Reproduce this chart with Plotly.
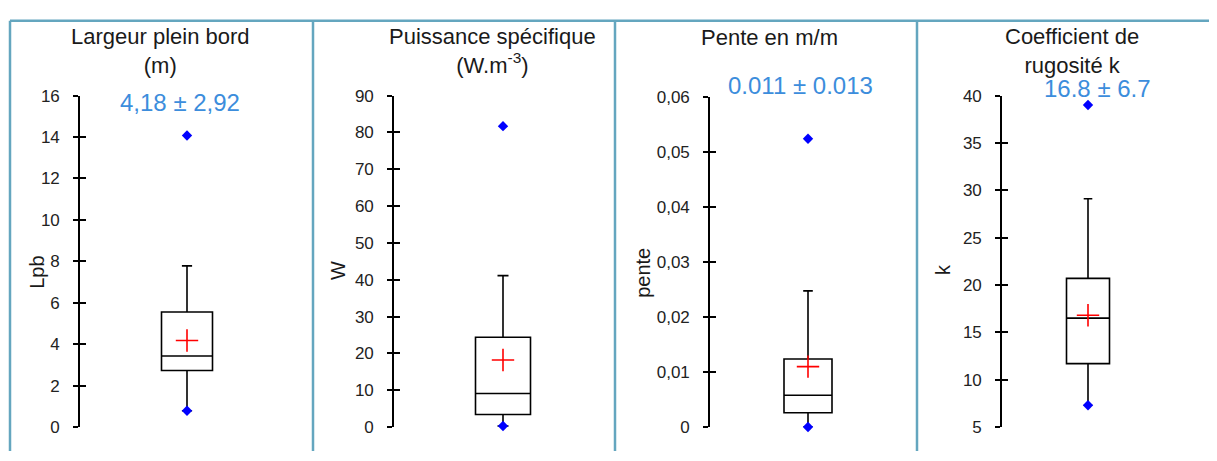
"""Box plots of four river-channel descriptors (width, stream power, slope, roughness)."""

import plotly.graph_objects as go

# page is 1217x461, the html body adds an 8 px margin around the figure
PAGE_W, PAGE_H = 1217, 461
PAD = 8
W, H = PAGE_W - PAD, PAGE_H - PAD

# --- data ------------------------------------------------------------------
titles = ["Largeur plein bord<br>(m)", "Puissance spécifique<br>(W.m<sup>-3</sup>)",
          "Pente en m/m", "Coefficient de<br>rugosité k"]
ylabels = ["Lpb", "W", "pente", "k"]
stat_labels = ["4,18 ± 2,92", "", "0.011 ± 0.013", "16.8 ± 6.7"]

q1 = [2.73, 3.4, 0.0026, 11.7]
median = [3.43, 9.1, 0.0058, 16.5]
q3 = [5.55, 24.4, 0.0124, 20.7]
whisker_low = [0.79, 0.3, 0.0, 7.3]
whisker_high = [7.78, 41.1, 0.0248, 29.1]
means = [4.18, 18.2, 0.011, 16.8]
minima = [0.79, 0.3, 0.0, 7.3]
maxima = [14.07, 81.7, 0.0525, 39.0]

y_ranges = [[0, 16], [0, 90], [0, 0.06], [5, 40]]
y_dticks = [2, 10, 0.01, 5]

# --- geometry (screen pixels in the 1217x461 page) --------------------------
axis_px = [80, 394, 710, 1002]
center_px = [187, 503, 808, 1088]
box_px = [51, 55, 48, 43]
top_px = [90, 90, 92, 90]
bottom_px = 436
title_xy = [(160, 43), (492, 43), (770, 29), (1072, 43)]
stat_xy = [(180, 97), (0, 0), (800, 80), (1097, 83)]
ylabel_xy = [(37, 275), (338, 273), (643, 275), (943, 272)]
dividers = [10, 313, 615, 917]
frame_top = 12

FONT = "Arial, 'Liberation Sans', sans-serif"
FRAME = "#64A6BF"


def px(x):
    return (x - PAD) / W


def py(y):
    return 1 - (y - PAD) / H


fig = go.Figure()
layout = {}
annotations = []

for i in range(4):
    n = "" if i == 0 else str(i + 1)
    xa, ya, yo = f"x{n}", f"y{n}", f"y{i + 5}"
    half_px = center_px[i] - axis_px[i]
    box_width = box_px[i] / half_px

    fig.add_trace(go.Box(
        x=[0], q1=[q1[i]], median=[median[i]], q3=[q3[i]],
        lowerfence=[whisker_low[i]], upperfence=[whisker_high[i]],
        width=box_width, whiskerwidth=0.2, boxpoints=False,
        line=dict(color="black", width=1.6), fillcolor="rgba(255,255,255,0)",
        xaxis=xa, yaxis=ya, showlegend=False,
    ))
    fig.add_trace(go.Scatter(
        x=[0, 0], y=[minima[i], maxima[i]], mode="markers",
        marker=dict(symbol="diamond", size=8, color="#0000FF"),
        cliponaxis=False, xaxis=xa, yaxis=ya, showlegend=False,
    ))
    fig.add_trace(go.Scatter(
        x=[0], y=[means[i]], mode="markers",
        marker=dict(symbol="cross-thin", size=16, line=dict(color="#FF0000", width=1.6)),
        cliponaxis=False, xaxis=xa, yaxis=yo, showlegend=False,
    ))

    layout[f"xaxis{n}"] = dict(
        domain=[px(axis_px[i]), px(axis_px[i] + 2 * half_px)],
        range=[-1, 1], visible=False, anchor=ya,
    )
    layout[f"yaxis{n}"] = dict(
        domain=[py(bottom_px), py(top_px[i])], range=y_ranges[i],
        dtick=y_dticks[i], tick0=0, anchor=xa,
        showline=True, linecolor="black", linewidth=1.6,
        ticks="outside", ticklen=5, tickwidth=1.6, tickcolor="black",
        showgrid=False, zeroline=False, ticklabelstandoff=10,
        tickfont=dict(family=FONT, size=17, color="#222222"),
    )
    # second axis on top of the first one, so that the ticks cross the line
    layout[f"yaxis{i + 5}"] = dict(
        overlaying=ya, anchor=xa, side="left", range=y_ranges[i],
        dtick=y_dticks[i], tick0=0, ticks="inside", ticklen=6, tickwidth=1.6,
        tickcolor="black", showticklabels=False, showline=False,
        showgrid=False, zeroline=False,
    )

    tx, ty = title_xy[i]
    annotations.append(dict(
        text=titles[i], x=px(tx), y=py(ty), xref="paper", yref="paper",
        xanchor="center", yanchor="middle", showarrow=False,
        font=dict(family=FONT, size=22, color="#1a1a1a"),
    ))
    if stat_labels[i]:
        sx, sy = stat_xy[i]
        annotations.append(dict(
            text=stat_labels[i], x=px(sx), y=py(sy), xref="paper", yref="paper",
            xanchor="center", yanchor="middle", showarrow=False,
            font=dict(family=FONT, size=24, color="#3C8DDC"),
        ))
    lx, ly = ylabel_xy[i]
    annotations.append(dict(
        text=ylabels[i], x=px(lx), y=py(ly), xref="paper", yref="paper",
        xanchor="center", yanchor="middle", textangle=-90, showarrow=False,
        font=dict(family=FONT, size=20, color="#1a1a1a"),
    ))

shapes = [dict(type="line", xref="paper", yref="paper", x0=px(dividers[0]), x1=1,
               y0=py(frame_top), y1=py(frame_top), line=dict(color=FRAME, width=2.5))]
for d in dividers:
    shapes.append(dict(type="line", xref="paper", yref="paper", x0=px(d), x1=px(d),
                       y0=0, y1=py(frame_top), line=dict(color=FRAME, width=2.5)))

fig.update_layout(
    width=W, height=H, margin=dict(l=0, r=0, t=0, b=0),
    paper_bgcolor="white", plot_bgcolor="rgba(0,0,0,0)",
    separators=", ", showlegend=False,
    annotations=annotations, shapes=shapes, **layout,
)

fig.write_html("out.html")
